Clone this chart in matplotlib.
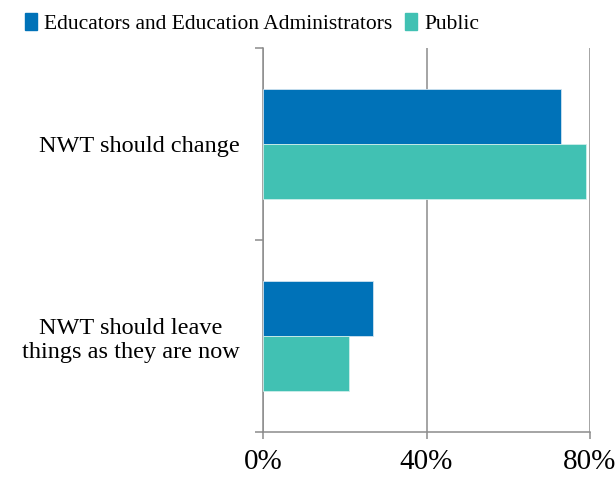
import matplotlib
matplotlib.use("Agg")
import matplotlib.pyplot as plt
from matplotlib.patches import Patch

categories = ["NWT should change", "NWT should leave\nthings as they are now"]
series_names = ["Educators and Education Administrators", "Public"]
educators = [73, 27]
public = [79, 21]
colors = ["#0072B8", "#41C1B3"]
xticks = [0, 40, 80]
xtick_labels = ["0%", "40%", "80%"]

plt.rcParams["font.family"] = ["Liberation Serif", "DejaVu Serif"]

fig = plt.figure(figsize=(6.16, 4.79), dpi=100)
ax = fig.add_axes([263 / 616, 1 - 432 / 479, (590 - 263) / 616, (432 - 48) / 479])

bar_h = 0.285
ypos = [0.5, 1.5]
ax.barh([y - bar_h / 2 for y in ypos], educators, height=bar_h, color=colors[0],
        edgecolor="#cfe3f0", linewidth=0.6, zorder=3)
ax.barh([y + bar_h / 2 for y in ypos], public, height=bar_h, color=colors[1],
        edgecolor="#cdeeea", linewidth=0.6, zorder=3)

ax.set_xlim(0, 80)
ax.set_ylim(2, 0)
ax.set_xticks(xticks)
ax.set_xticklabels(xtick_labels, fontsize=21)
ax.set_yticks([0, 1, 2])
ax.set_yticklabels([])
ax.set_yticks(ypos, minor=True)
ax.set_yticklabels(categories, minor=True, fontsize=17.5, ha="right", multialignment="center")
ax.tick_params(axis="y", which="minor", length=0, pad=17)
ax.tick_params(axis="y", which="major", length=6, width=1.1, color="#8c8c8c", direction="out")
ax.tick_params(axis="x", length=5, width=1.1, color="#8c8c8c", direction="out", pad=7)

ax.grid(axis="x", color="#8c8c8c", linewidth=1.1, zorder=0)
for side in ["top", "right"]:
    ax.spines[side].set_visible(False)
for side in ["left", "bottom"]:
    ax.spines[side].set_color("#8c8c8c")
    ax.spines[side].set_linewidth(1.1)

handles = [Patch(color=c) for c in colors]
fig.legend(handles, series_names, loc="upper left", bbox_to_anchor=(12 / 616, 1.0),
           ncol=2, frameon=False, fontsize=15.5, handlelength=0.55, handleheight=0.85,
           handletextpad=0.35, columnspacing=0.6, borderaxespad=0.2)

fig.savefig("out.png", dpi=100)
